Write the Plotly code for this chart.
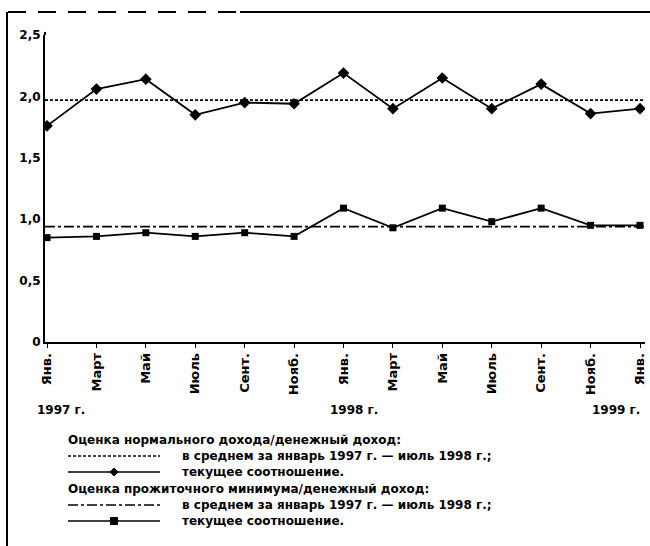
import plotly.graph_objects as go

# ---- data ----
months = ["Янв.", "Март", "Май", "Июль", "Сент.", "Нояб.",
          "Янв.", "Март", "Май", "Июль", "Сент.", "Нояб.", "Янв."]
normal_ratio = [1.76, 2.06, 2.14, 1.85, 1.95, 1.94, 2.19, 1.90, 2.15, 1.90, 2.10, 1.86, 1.90]
normal_avg = 1.97
subsist_ratio = [0.85, 0.86, 0.89, 0.86, 0.89, 0.86, 1.09, 0.93, 1.09, 0.98, 1.09, 0.95, 0.95]
subsist_avg = 0.94
y_ticks = [0, 0.5, 1.0, 1.5, 2.0, 2.5]
y_ticktext = ["0", "0,5", "1,0", "1,5", "2,0", "2,5"]
years = ["1997 г.", "1998 г.", "1999 г."]
year_pos = [0, 6, 12]
legend_title1 = "Оценка нормального дохода/денежный доход:"
legend_title2 = "Оценка прожиточного минимума/денежный доход:"
legend_avg = "в среднем за январь 1997 г. — июль 1998 г.;"
legend_cur = "текущее соотношение."

x = list(range(len(months)))

W, H = 650, 546
L, R, T, B = 45, 5, 35, 204
PW, PH = W - L - R, H - T - B

def px(xp):
    return (xp - L) / PW

def py(yp):
    return (H - B - yp) / PH

FONT = "DejaVu Sans"

fig = go.Figure()
fig.add_trace(go.Scatter(x=x, y=normal_ratio, mode="lines+markers",
                         line=dict(color="black", width=1.8),
                         marker=dict(symbol="diamond", size=9, color="black"),
                         showlegend=False))
fig.add_trace(go.Scatter(x=x, y=subsist_ratio, mode="lines+markers",
                         line=dict(color="black", width=1.8),
                         marker=dict(symbol="square", size=7, color="black"),
                         showlegend=False))

shapes = []
# average lines
shapes.append(dict(type="line", xref="paper", yref="y", x0=0, x1=1,
                   y0=normal_avg, y1=normal_avg,
                   line=dict(color="black", width=1.6, dash="3px,2px")))
shapes.append(dict(type="line", xref="paper", yref="y", x0=0, x1=1,
                   y0=subsist_avg, y1=subsist_avg,
                   line=dict(color="black", width=1.8, dash="10px,3px,3px,3px")))
# frame decorations
shapes.append(dict(type="line", xref="paper", yref="paper", x0=px(8), x1=px(240),
                   y0=py(12), y1=py(12), line=dict(color="black", width=2, dash="18px,12px")))
shapes.append(dict(type="line", xref="paper", yref="paper", x0=px(240), x1=px(650),
                   y0=py(12), y1=py(12), line=dict(color="black", width=2)))
shapes.append(dict(type="line", xref="paper", yref="paper", x0=px(7), x1=px(7),
                   y0=py(12), y1=py(546), line=dict(color="black", width=2)))
# y axis extension above top
shapes.append(dict(type="line", xref="paper", yref="paper", x0=0, x1=0,
                   y0=1, y1=py(32), line=dict(color="black", width=2)))

# legend samples
s_x0, s_x1, s_mid = 68, 160, 114
ly = [440, 456, 472, 489, 505, 521]
shapes.append(dict(type="line", xref="paper", yref="paper", x0=px(s_x0), x1=px(s_x1),
                   y0=py(ly[1]), y1=py(ly[1]), line=dict(color="black", width=1.4, dash="3px,2px")))
shapes.append(dict(type="line", xref="paper", yref="paper", x0=px(s_x0), x1=px(s_x1),
                   y0=py(ly[2]), y1=py(ly[2]), line=dict(color="black", width=1.6)))
d = 4
shapes.append(dict(type="path", xref="paper", yref="paper",
                   path=f"M {px(s_mid-d)} {py(ly[2])} L {px(s_mid)} {py(ly[2]-d)} L {px(s_mid+d)} {py(ly[2])} L {px(s_mid)} {py(ly[2]+d)} Z",
                   fillcolor="black", line=dict(color="black", width=1)))
shapes.append(dict(type="line", xref="paper", yref="paper", x0=px(s_x0), x1=px(s_x1),
                   y0=py(ly[4]), y1=py(ly[4]), line=dict(color="black", width=1.6, dash="10px,3px,3px,3px")))
shapes.append(dict(type="line", xref="paper", yref="paper", x0=px(s_x0), x1=px(s_x1),
                   y0=py(ly[5]), y1=py(ly[5]), line=dict(color="black", width=1.6)))
shapes.append(dict(type="rect", xref="paper", yref="paper",
                   x0=px(s_mid-3.5), x1=px(s_mid+3.5), y0=py(ly[5]+3.5), y1=py(ly[5]-3.5),
                   fillcolor="black", line=dict(color="black", width=1)))

annotations = []
for name, pos, anc, sh in zip(years, year_pos, ["left", "center", "right"], [-12, 10, 2]):
    annotations.append(dict(x=pos, y=py(410), xref="x", yref="paper", text=name,
                            showarrow=False, xanchor=anc, yanchor="middle", xshift=sh,
                            font=dict(family=FONT, size=12, color="black", weight="bold")))
legend_rows = [(66, ly[0], legend_title1), (180, ly[1], legend_avg), (180, ly[2], legend_cur),
               (66, ly[3], legend_title2), (180, ly[4], legend_avg), (180, ly[5], legend_cur)]
for lx, yy, txt in legend_rows:
    annotations.append(dict(x=px(lx), y=py(yy), xref="paper", yref="paper", text=txt,
                            showarrow=False, xanchor="left", yanchor="middle",
                            font=dict(family=FONT, size=12, color="black", weight="bold")))

unit = (640 - 47) / 12.0
fig.update_layout(
    width=W, height=H,
    margin=dict(l=L, r=R, t=T, b=B),
    paper_bgcolor="white", plot_bgcolor="white",
    shapes=shapes, annotations=annotations,
    xaxis=dict(range=[-2 / unit, 12 + 5 / unit], tickvals=x, ticktext=months, tickangle=-90,
               showline=True, linecolor="black", linewidth=1.6, automargin=False,
               ticks="outside", ticklen=4, tickcolor="black", showgrid=False, zeroline=False,
               tickfont=dict(family=FONT, size=13, color="black", weight="bold")),
    yaxis=dict(range=[0, 2.5], tickvals=y_ticks, ticktext=y_ticktext,
               showline=True, linecolor="black", linewidth=2, automargin=False,
               ticks="", showgrid=False, zeroline=False,
               tickfont=dict(family=FONT, size=12, color="black", weight="bold")),
    showlegend=False,
)

fig.write_html("out.html", config={"displayModeBar": False},
               post_script="document.body.style.margin='0px';document.body.style.overflow='hidden';")
